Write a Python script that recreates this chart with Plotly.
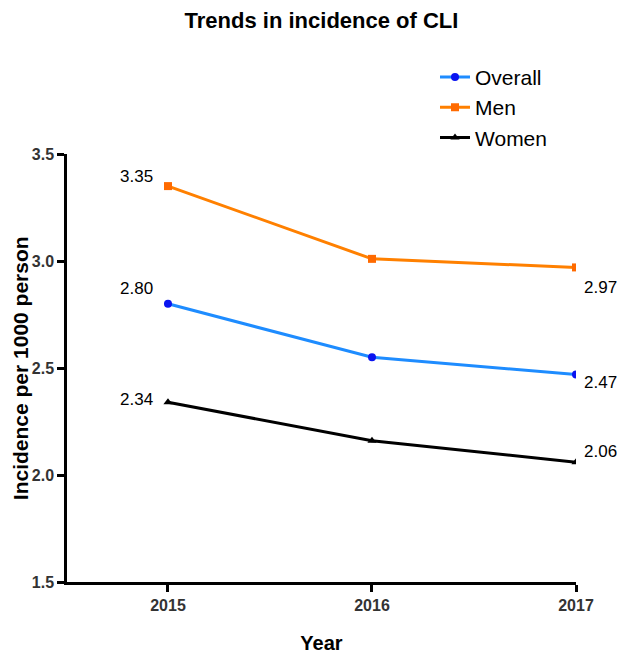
import plotly.graph_objects as go

years = [2015, 2016, 2017]
overall = [2.80, 2.55, 2.47]
men = [3.35, 3.01, 2.97]
women = [2.34, 2.16, 2.06]

y_ticks = [1.5, 2.0, 2.5, 3.0, 3.5]

fig = go.Figure()

fig.add_trace(go.Scatter(
    x=years, y=overall, name="Overall", mode="lines+markers", legendgroup="a",
    line=dict(color="#1E8CFF", width=3),
    marker=dict(color="#0A14F0", size=8, symbol="circle"),
))
fig.add_trace(go.Scatter(
    x=years, y=men, name="Men", mode="lines+markers", legendgroup="b",
    line=dict(color="#FF8000", width=3),
    marker=dict(color="#FF6A00", size=8, symbol="square"),
))
fig.add_trace(go.Scatter(
    x=years, y=women, name="Women", mode="lines+markers", legendgroup="c",
    line=dict(color="black", width=3),
    marker=dict(color="black", size=8, symbol="triangle-up"),
))

# value labels at first and last year (pixel offsets from the point)
label_font = dict(family="Arial", size=17, color="black")
first_shift = {"Overall": (-31, 15), "Men": (-31, 10), "Women": (-31, 3)}
last_shift = {"Overall": (24, -8), "Men": (24, -20), "Women": (24, 11)}
for name, vals in [("Overall", overall), ("Men", men), ("Women", women)]:
    dx, dy = first_shift[name]
    fig.add_annotation(x=years[0], y=vals[0], text=f"{vals[0]:.2f}", showarrow=False,
                       xshift=dx, yshift=dy, xanchor="center", font=label_font)
    dx, dy = last_shift[name]
    fig.add_annotation(x=years[-1], y=vals[-1], text=f"{vals[-1]:.2f}", showarrow=False,
                       xshift=dx, yshift=dy, xanchor="center", font=label_font)

# y axis title as a rotated annotation so it can sit close to the edge
fig.add_annotation(x=-0.092, y=0.5, xref="paper", yref="paper", xanchor="center", yanchor="middle",
                   text="<b>Incidence per 1000 person</b>", textangle=-90, showarrow=False,
                   font=dict(family="Arial", size=21, color="black"))

# page body adds an 8px offset, so the figure is a bit smaller than the window
fig.update_layout(
    width=617, height=646,
    plot_bgcolor="white", paper_bgcolor="white",
    margin=dict(l=59, r=49, t=146, b=72),
    title=dict(text="<b>Trends in incidence of CLI</b>", x=0.5, xref="paper", xanchor="center",
               y=1 - 5 / 646, yanchor="top", pad=dict(t=0),
               font=dict(family="Arial", size=22, color="black")),
    font=dict(family="Arial"),
    legend=dict(x=0.723, y=1.227, xanchor="left", yanchor="top",
                font=dict(family="Arial", size=21, color="black"),
                bgcolor="rgba(0,0,0,0)", tracegroupgap=0, itemwidth=30),
    showlegend=True,
    xaxis=dict(
        range=[2014.505, 2017], tickvals=years, ticktext=[f"<b>{y}</b>" for y in years],
        showline=True, linecolor="black", linewidth=2.5, showgrid=False, zeroline=False,
        ticks="outside", ticklen=7, tickwidth=2.5, tickcolor="black", automargin=False,
        tickfont=dict(family="Arial", size=16, color="#333333"),
        title=dict(text="<b>Year</b>", font=dict(family="Arial", size=20, color="black"),
                   standoff=24),
    ),
    yaxis=dict(
        range=[1.5, 3.5], tickvals=y_ticks, ticktext=[f"<b>{t:.1f}</b>" for t in y_ticks],
        showline=True, linecolor="black", linewidth=2.5, showgrid=False, zeroline=False,
        ticks="outside", ticklen=7, tickwidth=2.5, tickcolor="black", automargin=False,
        tickfont=dict(family="Arial", size=16, color="#333333"),
    ),
)

fig.write_html("out.html")
